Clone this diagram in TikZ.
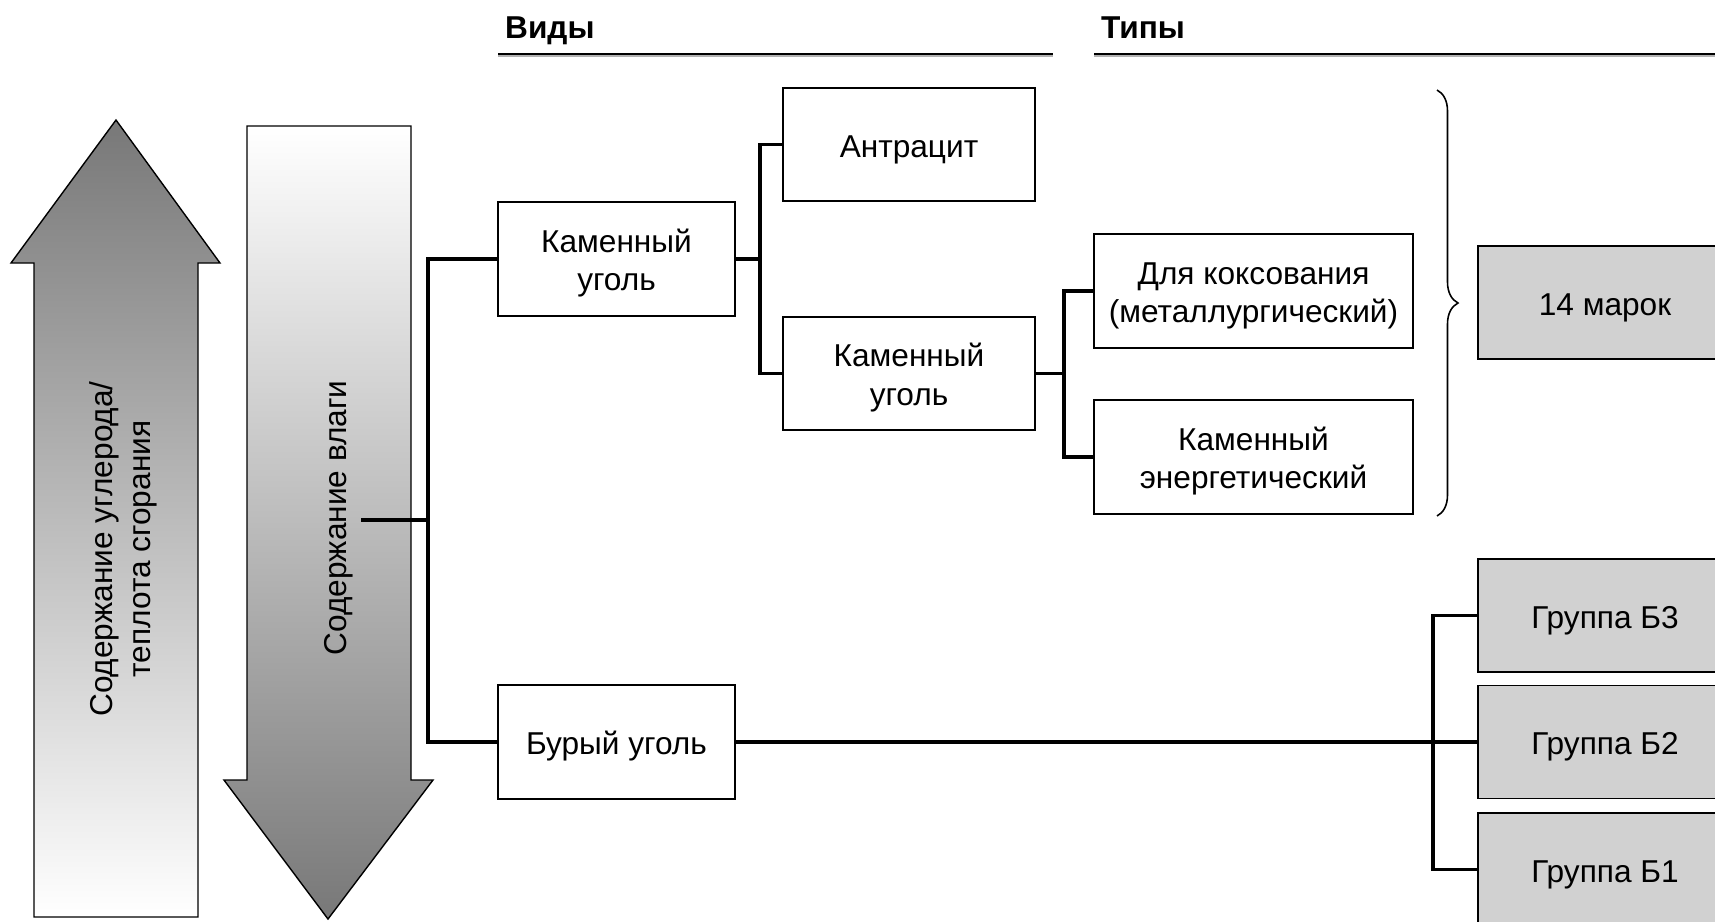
\documentclass[tikz,border=0pt]{standalone}
\usepackage{fontspec}
\setmainfont{Liberation Sans}
\usetikzlibrary{positioning,decorations.pathreplacing}
\definecolor{arrowgray}{gray}{0.47}
\definecolor{markgray}{gray}{0.82}

\begin{document}
\begin{tikzpicture}[x=0.02cm, y=-0.02cm,
    every node/.style={font=\fontsize{18}{22}\selectfont},
    lowtext/.style={execute at begin node={\rule{0pt}{#1}}},
    lowtext/.default=18pt,
    twoline/.style={lowtext=40pt},
    box/.style={draw, line width=1.1pt, align=center, inner sep=0pt, lowtext},
    kind/.style={box, minimum width=4.74cm, minimum height=2.28cm},
    sub/.style={box, minimum width=5.04cm, minimum height=2.26cm},
    grade/.style={box, minimum width=6.38cm, minimum height=2.28cm},
    markbox/.style={box, fill=markgray, minimum width=5.08cm, minimum height=2.26cm},
    conn/.style={line width=1.8pt},
    hdr/.style={font=\fontsize{18}{22}\selectfont\bfseries, anchor=base west},
    hdrline/.style={line width=1.5pt}]
  \useasboundingbox (0,0) rectangle (1715,921);

  % arrows
  \draw[line width=0.8pt, top color=arrowgray, bottom color=white]
    (116,120) -- (220,263) -- (198,263) -- (198,917) -- (34,917) -- (34,263) -- (11,263) -- cycle;
  \draw[line width=0.8pt, top color=white, bottom color=arrowgray]
    (247,126) -- (411,126) -- (411,780) -- (433,780) -- (328,919) -- (224,780) -- (247,780) -- cycle;
  \node[rotate=90, align=center, lowtext=39pt] (carbon) at (120,549) {Содержание углерода/\\теплота сгорания};
  \node[rotate=90, lowtext] (moisture) at (334,518) {Содержание влаги};

  % headers
  \node[hdr] (vidy) at (499,38) {Виды};
  \node[hdr] (tipy) at (1095,38) {Типы};
  \draw[hdrline, gray!60] (498,56) -- (1053,56);
  \draw[hdrline] (498,54) -- (1053,54);
  \draw[hdrline, gray!60] (1094,56) -- (1715,56);
  \draw[hdrline] (1094,54) -- (1715,54);

  % boxes
  \node[kind, twoline] (kam1) at (616.5,259) {Каменный\\уголь};
  \node[kind] (bur) at (616.5,742) {Бурый уголь};
  \node[sub] (antr) at (909,144.5) {Антрацит};
  \node[sub, twoline] (kam2) at (909,373.5) {Каменный\\уголь};
  \node[grade, twoline] (koks) at (1253.5,291) {Для коксования\\(металлургический)};
  \node[grade, twoline] (energ) at (1253.5,457) {Каменный\\энергетический};
  \node[markbox] (marok) at (1605,302.5) {14 марок};
  \node[markbox] (b3) at (1605,615.5) {Группа Б3};
  \node[markbox] (b2) at (1605,742) {Группа Б2};
  \node[markbox] (b1) at (1605,869.5) {Группа Б1};

  % connectors
  \coordinate (vl) at (361,520);
  \coordinate (fork) at (428,520);
  \draw[conn] (vl) -- (fork);
  \draw[conn] (kam1.west) -| (fork) |- (bur.west);
  \draw[conn] (kam1.east) -- ++(24,0) coordinate (j1);
  \draw[conn] (antr.west) -| (j1) |- (kam2.west);
  \draw[conn] (kam2.east) -- ++(28,0) coordinate (j2);
  \draw[conn] (koks.west) -| (j2) |- (energ.west);
  \draw[conn] (bur.east) -- (b2.west);
  \coordinate (j3) at (1433,742);
  \draw[conn] (b3.west) -| (j3) |- (b1.west);

  % brace
  \draw[line width=0.9pt, decorate, decoration={brace, amplitude=0.42cm}]
    (1437,90) -- (1437,516);
\end{tikzpicture}
\end{document}
